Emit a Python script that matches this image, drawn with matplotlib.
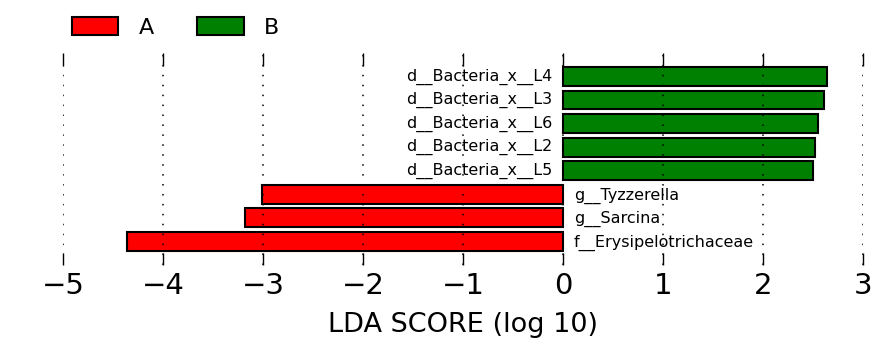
import numpy as np
from matplotlib import pyplot as plt
from matplotlib.patches import Patch

# features, bottom to top
features = ['f__Erysipelotrichaceae', 'g__Sarcina', 'g__Tyzzerella',
            'd__Bacteria_x__L5', 'd__Bacteria_x__L2', 'd__Bacteria_x__L6',
            'd__Bacteria_x__L3', 'd__Bacteria_x__L4']
lda = [-4.36, -3.18, -3.01, 2.50, 2.52, 2.55, 2.61, 2.64]
groups = ['A', 'A', 'A', 'B', 'B', 'B', 'B', 'B']
group_names = ['A', 'B']
group_colors = {'A': '#ff0000', 'B': '#008000'}

fig = plt.figure(figsize=(8.92, 3.6), dpi=100)
ax = fig.add_axes([0.0706, 0.264, 0.8969, 0.589])

pos = np.arange(len(features))
cols = [group_colors[g] for g in groups]
ax.barh(pos, lda, height=0.8, color=cols, edgecolor='black', linewidth=1.5, zorder=1)

# feature names next to the zero line
for p, v, name in zip(pos, lda, features):
    if v > 0:
        ax.text(-0.11, p, name, ha='right', va='center', fontsize=11.5)
    else:
        ax.text(0.11, p - 0.05, name, ha='left', va='center', fontsize=11.5)

ax.set_xlim(-5, 3)
ax.set_ylim(-1, 8)
ax.set_xticks(np.arange(-5, 4))
ax.set_yticks([])
for s in ax.spines.values():
    s.set_visible(False)
ax.tick_params(axis='x', direction='in', top=True, bottom=True, length=9,
               width=1, labelsize=21, pad=5)
ax.xaxis.grid(True, linestyle=(0, (1, 5.5)), color='black', linewidth=1.1, zorder=3)
ax.set_axisbelow(False)
ax.set_xlabel('LDA SCORE (log 10)', fontsize=19.5, labelpad=9)

handles = [Patch(facecolor=group_colors[g], edgecolor='black', linewidth=1.5, label=g)
           for g in group_names]
fig.legend(handles=handles, loc='upper left', bbox_to_anchor=(0.058, 1.008),
           ncol=2, frameon=False, fontsize=16, handlelength=2.1, handleheight=0.85,
           columnspacing=1.95, handletextpad=0.9)

fig.savefig('out.png', dpi=100)
